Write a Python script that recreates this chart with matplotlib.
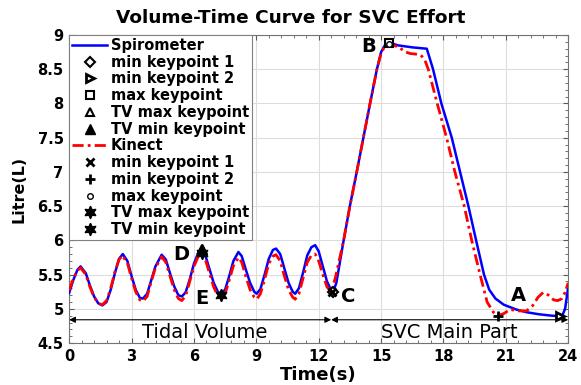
import numpy as np
import matplotlib
matplotlib.use('Agg')
import matplotlib.pyplot as plt
from matplotlib.ticker import MultipleLocator

plt.rcParams['font.family'] = ['DejaVu Sans']

# spirometer volume curve (time s, volume L)
spiro_t = [0.0, 0.2, 0.4, 0.55, 0.8, 1.0, 1.2, 1.4, 1.6, 1.8, 2.0, 2.2, 2.4, 2.58, 2.8, 3.0,
           3.2, 3.4, 3.55, 3.75, 3.95, 4.15, 4.45, 4.65, 4.85, 5.05, 5.25, 5.42, 5.6, 5.8,
           6.0, 6.2, 6.38, 6.55, 6.75, 6.95, 7.15, 7.3, 7.5, 7.7, 7.9, 8.14, 8.3, 8.5,
           8.7, 8.9, 9.02, 9.2, 9.4, 9.6, 9.8, 9.95, 10.15, 10.35, 10.55, 10.75, 10.87,
           11.05, 11.25, 11.45, 11.65, 11.83, 12.0, 12.2, 12.4, 12.6, 12.7, 12.85, 13.2,
           13.5, 13.83, 14.15, 14.47, 14.8, 15.0, 15.2, 15.4, 15.8, 16.5, 17.2, 17.5,
           17.9, 18.4, 18.8, 19.2, 19.57, 19.95, 20.2, 20.5, 20.9, 21.5, 22.0, 22.6,
           23.2, 23.7, 23.85, 24.0]
spiro_v = [5.23, 5.42, 5.57, 5.62, 5.52, 5.34, 5.18, 5.08, 5.05, 5.1, 5.28, 5.52, 5.73, 5.8,
           5.7, 5.48, 5.28, 5.16, 5.15, 5.22, 5.42, 5.62, 5.79, 5.72, 5.52, 5.33, 5.2,
           5.18, 5.24, 5.43, 5.66, 5.81, 5.85, 5.78, 5.58, 5.38, 5.25, 5.22, 5.28, 5.48,
           5.7, 5.83, 5.77, 5.57, 5.38, 5.25, 5.22, 5.29, 5.5, 5.73, 5.86, 5.88, 5.8,
           5.59, 5.38, 5.25, 5.22, 5.3, 5.53, 5.78, 5.9, 5.93, 5.84, 5.62, 5.4, 5.27,
           5.25, 5.38, 6.0, 6.5, 7.0, 7.5, 8.0, 8.5, 8.75, 8.86, 8.89, 8.85, 8.82, 8.8,
           8.5, 8.0, 7.5, 7.0, 6.5, 6.0, 5.5, 5.28, 5.15, 5.06, 4.99, 4.95, 4.92, 4.9,
           4.89, 5.0, 5.32]

# kinect volume curve
kin_t = [0.0, 0.2, 0.4, 0.55, 0.8, 1.0, 1.2, 1.4, 1.6, 1.8, 2.0, 2.2, 2.4, 2.55, 2.8, 3.0,
         3.2, 3.4, 3.55, 3.75, 3.95, 4.15, 4.45, 4.65, 4.85, 5.05, 5.25, 5.42, 5.6, 5.8,
         6.0, 6.2, 6.38, 6.55, 6.75, 6.95, 7.15, 7.3, 7.5, 7.7, 7.9, 8.14, 8.3, 8.5, 8.7,
         8.9, 9.02, 9.2, 9.4, 9.6, 9.8, 9.95, 10.15, 10.35, 10.55, 10.75, 10.87, 11.05,
         11.25, 11.45, 11.65, 11.83, 12.0, 12.2, 12.4, 12.6, 12.8, 13.2, 13.5, 13.83,
         14.15, 14.47, 14.8, 15.0, 15.2, 15.4, 15.7, 15.9, 16.1, 16.4, 16.7, 16.9, 17.1,
         17.27, 17.7, 18.15, 18.55, 19.0, 19.36, 19.76, 20.1, 20.4, 20.6, 20.9, 21.2,
         21.6, 22.0, 22.3, 22.55, 22.8, 23.05, 23.3, 23.5, 23.7, 23.85, 24.0]
kin_v = [5.27, 5.44, 5.56, 5.6, 5.5, 5.32, 5.17, 5.08, 5.06, 5.12, 5.3, 5.54, 5.72, 5.78,
         5.67, 5.45, 5.25, 5.13, 5.11, 5.18, 5.4, 5.6, 5.76, 5.68, 5.48, 5.28, 5.15, 5.12,
         5.19, 5.4, 5.62, 5.76, 5.8, 5.72, 5.52, 5.32, 5.19, 5.16, 5.22, 5.42, 5.63, 5.75,
         5.68, 5.47, 5.28, 5.17, 5.14, 5.22, 5.43, 5.66, 5.77, 5.79, 5.7, 5.48, 5.28, 5.17,
         5.14, 5.22, 5.45, 5.68, 5.78, 5.8, 5.7, 5.5, 5.32, 5.25, 5.45, 6.0, 6.5, 7.0, 7.5,
         8.0, 8.5, 8.73, 8.85, 8.87, 8.84, 8.82, 8.76, 8.73, 8.72, 8.71, 8.64, 8.5, 8.0,
         7.5, 7.0, 6.5, 6.0, 5.5, 5.1, 4.95, 4.9, 4.93, 4.99, 4.97, 4.97, 5.05, 5.17,
         5.24, 5.2, 5.13, 5.12, 5.15, 5.24, 5.38]

# keypoints (t, v)
spiro_min1 = (12.7, 5.25)
spiro_min2 = (23.6, 4.89)
spiro_max = (15.4, 8.89)
spiro_tvmax = (6.38, 5.87)
spiro_tvmin = (6.38, 5.87)
kin_min1 = (12.65, 5.25)
kin_min2 = (20.6, 4.9)
kin_max = (15.4, 8.87)
kin_tvmax = (6.38, 5.82)
kin_tvmin = (7.3, 5.2)

letters = ['A', 'B', 'C', 'D', 'E']
letter_pos = [(21.6, 5.2), (14.4, 8.83), (13.4, 5.18), (5.4, 5.8), (6.38, 5.15)]

tidal_end = 12.6
arrow_v = 4.84
section_names = ['Tidal Volume', 'SVC Main Part']

hexagram = (6, 1, 0)

fig = plt.figure(figsize=(5.81, 3.85), dpi=100)
ax = fig.add_axes([0.119, 0.109, 0.859, 0.800])

ax.plot(spiro_t, spiro_v, color='#0000ff', lw=1.8, label='Spirometer', zorder=3)
ax.plot(*spiro_min1, 'D', ms=5, mfc='white', mec='black', mew=1.5, ls='none', label='min keypoint 1', zorder=5)
ax.plot(*spiro_min2, '>', ms=6, mfc='white', mec='black', mew=2, ls='none', label='min keypoint 2', zorder=5)
ax.plot(*spiro_max, 's', ms=6, mfc='white', mec='black', mew=1.5, ls='none', label='max keypoint', zorder=5)
ax.plot(*spiro_tvmax, '^', ms=6, mfc='white', mec='black', mew=1.5, ls='none', label='TV max keypoint', zorder=5)
ax.plot(*spiro_tvmin, '^', ms=7, mfc='black', mec='black', ls='none', label='TV min keypoint', zorder=5)

ax.plot(kin_t, kin_v, color='#ff0000', lw=2, ls=(0, (4, 1.5, 1, 1.5)), label='Kinect', zorder=4)
ax.plot(*kin_min1, 'x', ms=6, mec='black', mew=2, ls='none', label='min keypoint 1', zorder=6)
ax.plot(*kin_min2, '+', ms=7, mec='black', mew=2, ls='none', label='min keypoint 2', zorder=6)
ax.plot(*kin_max, 'o', ms=4, mfc='white', mec='black', mew=1, ls='none', label='max keypoint', zorder=6)
ax.plot(*kin_tvmax, marker=hexagram, ms=9, color='black', ls='none', label='TV max keypoint', zorder=6)
ax.plot(*kin_tvmin, marker=hexagram, ms=9, color='black', ls='none', label='TV min keypoint', zorder=6)

for name, (lt, lv) in zip(letters, letter_pos):
	ax.text(lt, lv, name, fontsize=14, fontweight='bold', ha='center', va='center', zorder=7)

# section arrows
arrow_style = dict(arrowstyle='<|-|>', color='black', lw=0.8, mutation_scale=9, shrinkA=0, shrinkB=0)
ax.annotate('', xy=(0, arrow_v), xytext=(tidal_end, arrow_v), arrowprops=arrow_style)
ax.annotate('', xy=(tidal_end, arrow_v), xytext=(24, arrow_v), arrowprops=arrow_style)
ax.text(tidal_end / 2 + 0.2, 4.66, section_names[0], fontsize=14, ha='center', va='center')
ax.text((tidal_end + 24) / 2, 4.66, section_names[1], fontsize=14, ha='center', va='center')

ax.set_xlim(0, 24)
ax.set_ylim(4.5, 9)
ax.xaxis.set_major_locator(MultipleLocator(3))
ax.xaxis.set_minor_locator(MultipleLocator(0.6))
ax.yaxis.set_minor_locator(MultipleLocator(0.1))
ax.set_yticks(np.arange(4.5, 9.01, 0.5))
ax.set_yticklabels(['4.5', '5', '5.5', '6', '6.5', '7', '7.5', '8', '8.5', '9'])
ax.grid(True, which='major', color='#dddddd', lw=0.8, zorder=0)
ax.tick_params(which='both', direction='in', top=True, right=True, colors='0.35', labelcolor='black')
ax.tick_params(which='major', length=3.5, labelsize=10.5, pad=4)
ax.tick_params(which='minor', length=2)
for lab in ax.get_xticklabels() + ax.get_yticklabels():
	lab.set_fontweight('bold')
for sp in ax.spines.values():
	sp.set_color('0.45')

fig.text(0.5, 0.953, 'Volume-Time Curve for SVC Effort', fontsize=13.3, fontweight='bold',
	ha='center', va='center')
ax.set_xlabel('Time(s)', fontsize=13, fontweight='bold', labelpad=2)
ax.set_ylabel('Litre(L)', fontsize=11.5, fontweight='bold', labelpad=8)

leg = ax.legend(loc='upper left', borderaxespad=0, labelspacing=0.12,
	prop={'size': 10.5, 'weight': 'bold'},
	handlelength=2.4, handletextpad=0.25, borderpad=0.2, fancybox=False, framealpha=1,
	edgecolor='0.5')
leg.get_frame().set_linewidth(0.8)
leg.set_zorder(10)

plt.savefig('out.png', dpi=100)
plt.close()
